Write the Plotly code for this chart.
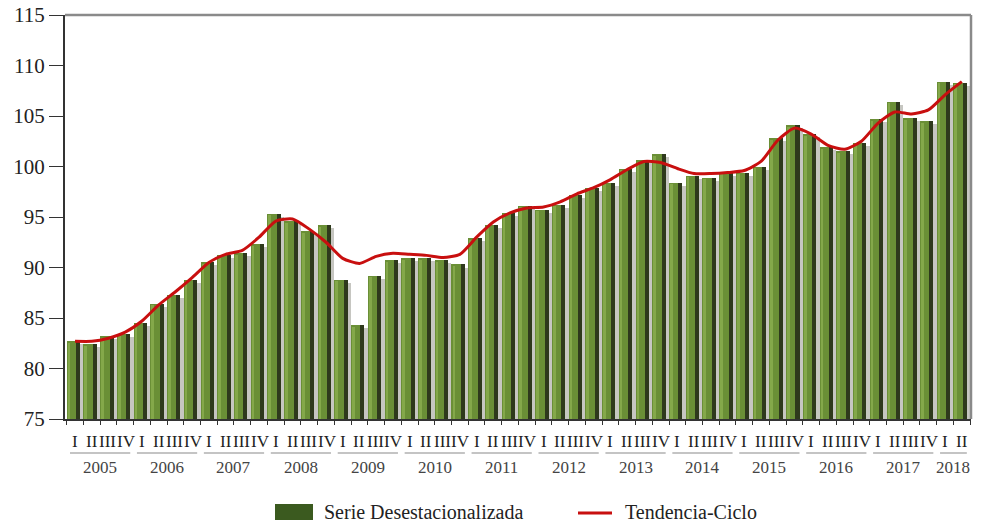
import plotly.graph_objects as go

years = ["2005", "2006", "2007", "2008", "2009", "2010", "2011", "2012",
         "2013", "2014", "2015", "2016", "2017", "2018"]
quarters_per_year = [4, 4, 4, 4, 4, 4, 4, 4, 4, 4, 4, 4, 4, 2]
quarter_names = ["I", "II", "III", "IV"]

serie_desest = [
    82.7, 82.4, 83.2, 83.4,
    84.5, 86.4, 87.3, 88.8,
    90.5, 91.2, 91.4, 92.3,
    95.3, 94.6, 93.6, 94.2,
    88.8, 84.3, 89.2, 90.7,
    90.9, 90.9, 90.7, 90.3,
    92.9, 94.2, 95.4, 96.1,
    95.7, 96.2, 97.2, 97.9,
    98.4, 99.8, 100.6, 101.2,
    98.4, 99.1, 98.9, 99.4,
    99.4, 100.0, 102.8, 104.1,
    103.2, 101.9, 101.5, 102.3,
    104.7, 106.4, 104.8, 104.5,
    108.4, 108.3,
]

tendencia_ciclo = [
    82.7, 82.7, 83.0, 83.6,
    84.7, 86.3, 87.6, 89.0,
    90.5, 91.3, 91.7, 93.0,
    94.6, 94.8, 93.8, 92.5,
    90.9, 90.4, 91.1, 91.4,
    91.3, 91.2, 91.0, 91.3,
    93.0, 94.5, 95.4, 95.9,
    96.0, 96.5, 97.3, 97.9,
    98.7, 99.7, 100.5, 100.4,
    99.8, 99.3, 99.3, 99.4,
    99.6, 100.5, 102.6, 103.8,
    103.2, 102.1, 101.7, 102.5,
    104.3, 105.4, 105.2, 105.6,
    107.1, 108.4,
]

n = len(serie_desest)
xs = list(range(n))
quarter_labels = []
for q in quarters_per_year:
    quarter_labels += quarter_names[:q]

SERIF = "Liberation Serif, Times New Roman, serif"

# pixel geometry helpers for annotations/shapes outside the plot
L, R, T, B = 65, 971, 15, 419
W, H = R - L, B - T


def py(ypx):
    return (B - ypx) / H


def px(xpx):
    return (xpx - L) / W


fig = go.Figure()

# gray shadow between bars
fig.add_trace(go.Bar(x=xs, y=[v - 75 - 0.3 for v in serie_desest], base=75,
                     offset=0.28, width=0.22, marker=dict(color="#c6c6c1", line_width=0),
                     hoverinfo="skip", showlegend=False))
# dark side of bars
fig.add_trace(go.Bar(x=xs, y=[v - 75 for v in serie_desest], base=75,
                     offset=0.05, width=0.25, marker=dict(color="#2e391c", line_width=0),
                     hoverinfo="skip", showlegend=False))
# green front face
fig.add_trace(go.Bar(x=xs, y=[v - 75 for v in serie_desest], base=75,
                     offset=-0.5, width=0.56, marker=dict(color="#6a8f36", line_width=0),
                     name="Serie Desestacionalizada", showlegend=False))
# light highlight on front face
fig.add_trace(go.Bar(x=xs, y=[v - 75 - 0.15 for v in serie_desest], base=75,
                     offset=-0.44, width=0.16, marker=dict(color="#84a84a", line_width=0),
                     hoverinfo="skip", showlegend=False))
# trend line
fig.add_trace(go.Scatter(x=xs, y=tendencia_ciclo, mode="lines",
                         line=dict(color="#c80f0f", width=3, shape="spline", smoothing=0.6),
                         name="Tendencia-Ciclo", showlegend=False))

annotations = []
shapes = []

# quarter labels
nudges = {"I": 0, "II": 0, "III": -1, "IV": 1}
for i, lab in enumerate(quarter_labels):
    annotations.append(dict(x=i, y=py(441), xref="x", yref="paper", text=lab,
                            showarrow=False, yanchor="middle", xshift=nudges[lab],
                            font=dict(family=SERIF, size=17, color="#222")))

# year labels and underlines
start = 0
for yr, q in zip(years, quarters_per_year):
    first, last = start, start + q - 1
    annotations.append(dict(x=(first + last) / 2, y=py(468), xref="x", yref="paper",
                            text=yr, showarrow=False, yanchor="middle",
                            font=dict(family=SERIF, size=17, color="#444")))
    shapes.append(dict(type="line", xref="x", yref="paper",
                       x0=first - 0.3, x1=last + 0.3, y0=py(453), y1=py(453),
                       line=dict(color="#b0b0b0", width=1.5)))
    start += q

# top & right border
shapes.append(dict(type="line", xref="paper", yref="paper", x0=0, x1=1, y0=1, y1=1,
                   line=dict(color="#8a8a8a", width=2.5)))
shapes.append(dict(type="line", xref="paper", yref="paper", x0=1, x1=1, y0=0, y1=1,
                   line=dict(color="#8a8a8a", width=2.5)))

# manual legend
shapes.append(dict(type="rect", xref="paper", yref="paper",
                   x0=px(275), x1=px(313), y0=py(520), y1=py(504),
                   fillcolor="#3b5a1f", line_width=0))
annotations.append(dict(x=px(322), y=py(512), xref="paper", yref="paper",
                        text="Serie Desestacionalizada", showarrow=False,
                        xanchor="left", yanchor="middle",
                        font=dict(family=SERIF, size=20, color="#222")))
shapes.append(dict(type="line", xref="paper", yref="paper",
                   x0=px(578), x1=px(612), y0=py(513), y1=py(513),
                   line=dict(color="#c80f0f", width=3)))
annotations.append(dict(x=px(623), y=py(512), xref="paper", yref="paper",
                        text="Tendencia-Ciclo", showarrow=False,
                        xanchor="left", yanchor="middle",
                        font=dict(family=SERIF, size=20, color="#222")))

fig.update_layout(
    width=981, height=527,
    margin=dict(l=L, r=981 - R, t=T, b=527 - B, autoexpand=False),
    paper_bgcolor="white", plot_bgcolor="white",
    barmode="overlay", bargap=0,
    showlegend=False,
    annotations=annotations, shapes=shapes,
    xaxis=dict(range=[-0.6, n - 0.45], showgrid=False, zeroline=False,
               automargin=False,
               showline=True, linecolor="#333", linewidth=2,
               tickvals=[i + 0.5 for i in range(-1, n)], ticks="outside",
               ticklen=4, tickcolor="#333", showticklabels=False),
    yaxis=dict(range=[75, 115], dtick=5, showgrid=False, zeroline=False,
               automargin=False,
               showline=True, linecolor="#333", linewidth=2,
               ticks="outside", ticklen=14, tickcolor="#333",
               tickfont=dict(family=SERIF, size=21, color="#222")),
)

fig.write_html("out.html",
               config={"displayModeBar": False},
               post_script="document.body.style.margin='0';document.body.style.overflow='hidden';")
